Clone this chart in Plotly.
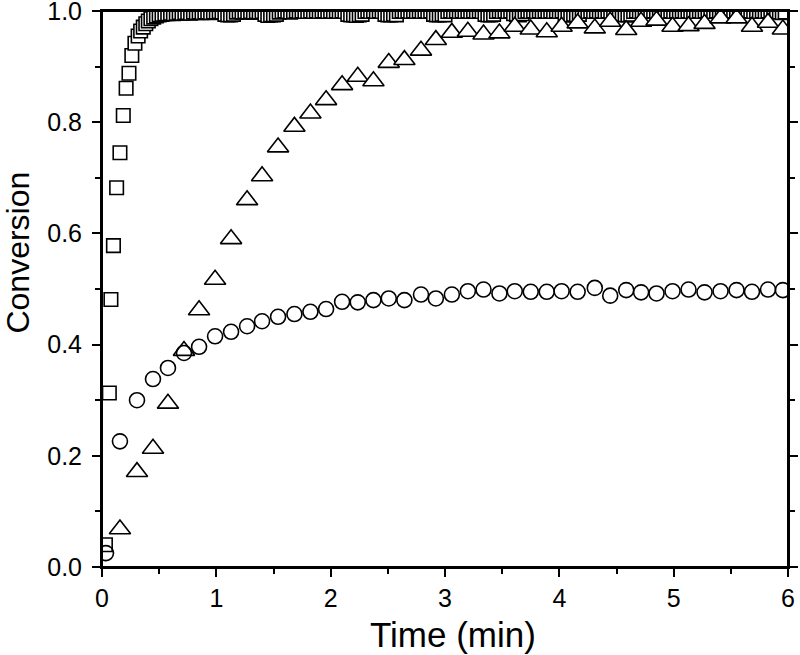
import plotly.graph_objects as go

# ---- data ----
time_circle = [0.035, 0.157, 0.306, 0.446, 0.577, 0.717, 0.849, 0.989, 1.129, 1.269,
               1.400, 1.540, 1.683, 1.823, 1.960, 2.100, 2.237, 2.374, 2.508, 2.645,
               2.790, 2.920, 3.060, 3.200, 3.337, 3.476, 3.610, 3.750, 3.890, 4.020,
               4.160, 4.310, 4.445, 4.585, 4.715, 4.850, 4.990, 5.130, 5.270, 5.410,
               5.550, 5.685, 5.825, 5.955]
conv_circle = [0.025, 0.226, 0.300, 0.338, 0.358, 0.385, 0.396, 0.415, 0.423, 0.433,
               0.442, 0.450, 0.455, 0.459, 0.464, 0.477, 0.476, 0.480, 0.483, 0.480,
               0.490, 0.483, 0.490, 0.496, 0.499, 0.492, 0.496, 0.495, 0.495, 0.496,
               0.495, 0.502, 0.488, 0.498, 0.494, 0.492, 0.496, 0.499, 0.494, 0.496,
               0.498, 0.495, 0.499, 0.498]

time_triangle = [0.157, 0.306, 0.446, 0.577, 0.717, 0.849, 0.989, 1.129, 1.269,
                 1.400, 1.540, 1.683, 1.823, 1.960, 2.100, 2.237, 2.374, 2.508, 2.645,
                 2.790, 2.920, 3.060, 3.200, 3.337, 3.476, 3.610, 3.750, 3.890, 4.020,
                 4.160, 4.310, 4.445, 4.585, 4.715, 4.850, 4.990, 5.130, 5.270, 5.410,
                 5.550, 5.685, 5.825, 5.955]
conv_triangle = [0.068, 0.171, 0.213, 0.294, 0.389, 0.462, 0.517, 0.590, 0.660,
                 0.703, 0.755, 0.792, 0.816, 0.840, 0.867, 0.882, 0.874, 0.907, 0.912,
                 0.929, 0.948, 0.961, 0.963, 0.958, 0.960, 0.972, 0.967, 0.962, 0.972,
                 0.978, 0.969, 0.981, 0.966, 0.981, 0.983, 0.972, 0.973, 0.977, 0.987,
                 0.987, 0.972, 0.979, 0.967]

time_square = [
    0.030, 0.064, 0.078, 0.100, 0.128, 0.157, 0.186, 0.211, 0.236, 0.261,
    0.288, 0.316, 0.338, 0.361, 0.383, 0.405, 0.428, 0.452, 0.476,
    0.500, 0.525, 0.550, 0.575, 0.600, 0.625, 0.650, 0.675, 0.700, 0.725,
    0.750, 0.775, 0.800, 0.825, 0.850, 0.875, 0.900, 0.925, 0.950, 0.975,
    1.000, 1.025, 1.050, 1.075, 1.100, 1.125, 1.150, 1.175, 1.200, 1.225,
    1.250, 1.275, 1.300, 1.325, 1.350, 1.375, 1.400, 1.425, 1.450, 1.475,
    1.500, 1.525, 1.550, 1.575, 1.600, 1.625, 1.650, 1.675, 1.700, 1.725,
    1.750, 1.775, 1.800, 1.825, 1.850, 1.875, 1.900, 1.925, 1.950, 1.975,
    2.000, 2.025, 2.050, 2.075, 2.100, 2.125, 2.150, 2.175, 2.200, 2.225,
    2.250, 2.275, 2.300, 2.325, 2.350, 2.375, 2.400, 2.425, 2.450, 2.475,
    2.500, 2.525, 2.550, 2.575, 2.600, 2.625, 2.650, 2.675, 2.700, 2.725,
    2.750, 2.775, 2.800, 2.825, 2.850, 2.875, 2.900, 2.925, 2.950, 2.975,
    3.000, 3.025, 3.050, 3.075, 3.100, 3.125, 3.150, 3.175, 3.200, 3.225,
    3.250, 3.275, 3.300, 3.325, 3.350, 3.375, 3.400, 3.425, 3.450, 3.475,
    3.500, 3.525, 3.550, 3.575, 3.600, 3.625, 3.650, 3.675, 3.700, 3.725,
    3.750, 3.775, 3.800, 3.825, 3.850, 3.875, 3.900, 3.925, 3.950, 3.975,
    4.000, 4.025, 4.050, 4.075, 4.100, 4.125, 4.150, 4.175, 4.200, 4.225,
    4.250, 4.275, 4.300, 4.325, 4.350, 4.375, 4.400, 4.425, 4.450, 4.475,
    4.500, 4.525, 4.550, 4.575, 4.600, 4.625, 4.650, 4.675, 4.700, 4.725,
    4.750, 4.775, 4.800, 4.825, 4.850, 4.875, 4.900, 4.925, 4.950, 4.975,
    5.000, 5.025, 5.050, 5.075, 5.100, 5.125, 5.150, 5.175, 5.200, 5.225,
    5.250, 5.275, 5.300, 5.325, 5.350, 5.375, 5.400, 5.425, 5.450, 5.475,
    5.500, 5.525, 5.550, 5.575, 5.600, 5.625, 5.650, 5.675, 5.700, 5.725,
    5.750, 5.775, 5.800, 5.825, 5.850, 5.875, 5.900, 5.925, 5.950, 5.975,
]
conv_square = [
    0.040, 0.313, 0.481, 0.578, 0.682, 0.745, 0.812, 0.861, 0.888, 0.920,
    0.942, 0.955, 0.964, 0.971, 0.977, 0.982, 0.986, 0.989, 0.991,
    0.993, 0.994, 0.995, 0.995, 0.996, 0.995, 0.996, 0.997, 0.996, 0.997,
    0.997, 0.996, 0.998, 0.997, 0.998, 0.997, 0.998, 0.998, 0.997, 0.998,
    0.998, 0.999, 0.998, 0.994, 0.993, 0.993, 0.994, 0.998, 0.999, 0.998,
    0.999, 0.998, 0.999, 0.998, 0.999, 0.998, 0.999, 0.994, 0.992, 0.993,
    0.993, 0.994, 0.998, 0.999, 1.000, 0.999, 0.998, 0.999, 1.000, 0.999,
    1.000, 0.999, 0.999, 1.000, 0.999, 1.000, 0.999, 1.000, 1.000, 0.999,
    1.000, 0.999, 1.000, 0.999, 1.000, 0.999, 0.994, 0.993, 0.993, 0.992,
    0.993, 0.994, 0.999, 1.000, 0.999, 1.000, 0.999, 1.000, 0.999, 0.994,
    0.993, 0.993, 0.994, 0.993, 0.999, 1.000, 0.999, 1.000, 0.999, 1.000,
    0.999, 1.000, 0.999, 1.000, 0.999, 1.000, 0.994, 0.993, 0.993, 0.994,
    0.993, 0.999, 1.000, 0.999, 1.000, 0.999, 1.000, 0.999, 1.000, 0.999,
    1.000, 0.999, 1.000, 0.999, 0.994, 0.993, 0.993, 0.994, 0.999, 1.000,
    0.999, 1.000, 0.999, 1.000, 0.995, 0.994, 0.993, 0.995, 0.999, 1.000,
    0.999, 1.000, 0.999, 1.000, 0.999, 1.000, 0.999, 1.000, 0.999, 1.000,
    0.999, 1.000, 0.994, 0.993, 0.993, 0.994, 0.993, 0.994, 0.999, 1.000,
    0.999, 1.000, 0.999, 1.000, 0.999, 1.000, 0.999, 1.000, 0.999, 1.000,
    1.000, 0.999, 0.994, 0.993, 0.993, 0.994, 0.999, 1.000, 0.999, 1.000,
    0.999, 1.000, 0.999, 1.000, 0.999, 1.000, 0.999, 1.000, 0.999, 1.000,
    0.999, 1.000, 0.999, 1.000, 0.999, 1.000, 0.999, 1.000, 0.999, 1.000,
    0.999, 1.000, 0.999, 1.000, 0.999, 1.000, 0.999, 1.000, 0.999, 1.000,
    0.999, 1.000, 0.999, 1.000, 0.999, 1.000, 0.999, 1.000, 0.999, 1.000,
    0.999, 1.000, 0.999, 1.000, 0.999, 1.000, 0.999, 0.998, 0.997, 0.998,
]

x_ticks = [0, 1, 2, 3, 4, 5, 6]
y_ticks = [0.0, 0.2, 0.4, 0.6, 0.8, 1.0]
y_ticktext = ["0.0", "0.2", "0.4", "0.6", "0.8", "1.0"]
x_label = "Time (min)"
y_label = "Conversion"

FONT = "Liberation Sans, Arial, sans-serif"

fig = go.Figure()
fig.add_trace(go.Scatter(
    x=time_square, y=conv_square, mode="markers",
    marker=dict(symbol="square", size=13.5, color="white",
                line=dict(color="black", width=1.6)),
    showlegend=False))
fig.add_trace(go.Scatter(
    x=time_triangle, y=conv_triangle, mode="markers",
    marker=dict(symbol="triangle-up", size=18.5, color="white",
                line=dict(color="black", width=1.6)),
    showlegend=False))
fig.add_trace(go.Scatter(
    x=time_circle, y=conv_circle, mode="markers",
    marker=dict(symbol="circle-open", size=15, color="black",
                line=dict(color="black", width=1.6)),
    showlegend=False))

axis_common = dict(
    showgrid=False, zeroline=False, automargin=False,
    showline=True, linecolor="black", linewidth=2,
    ticks="outside", ticklen=8, tickwidth=2, tickcolor="black",
    ticklabeloverflow="allow",
    tickfont=dict(family=FONT, size=25, color="black"),
)

fig.update_xaxes(
    range=[0, 6], tickmode="array", tickvals=x_ticks,
    ticktext=[str(v) for v in x_ticks], mirror=True,
    minor=dict(dtick=0.5, tick0=0, ticks="outside", ticklen=5, tickwidth=2, tickcolor="black"),
    **axis_common)
fig.update_yaxes(
    range=[0, 1], tickmode="array", tickvals=y_ticks, ticktext=y_ticktext,
    mirror="ticks", ticklabelstandoff=5,
    minor=dict(dtick=0.1, tick0=0, ticks="outside", ticklen=5, tickwidth=2, tickcolor="black"),
    **axis_common)

# axis titles placed as in the reference
fig.add_annotation(text=x_label, xref="paper", yref="paper", x=0.5117, y=-0.122,
                   xanchor="center", yanchor="middle", showarrow=False,
                   font=dict(family=FONT, size=35, color="black"))
fig.add_annotation(text=y_label, xref="paper", yref="paper", x=-0.1217, y=0.5647,
                   xanchor="center", yanchor="middle", showarrow=False, textangle=-90,
                   font=dict(family=FONT, size=32, color="black"))

# frame of the plot area (top / left edges)
fig.add_shape(type="rect", xref="paper", yref="paper", x0=0, y0=0, x1=1, y1=1,
              line=dict(color="black", width=2), layer="above")

fig.update_layout(
    width=800, height=655,
    margin=dict(l=102, r=12, t=11, b=88),
    paper_bgcolor="white", plot_bgcolor="white",
    font=dict(family=FONT, color="black"),
)

fig.write_html("out.html", config={"displayModeBar": False},
               post_script="document.body.style.margin='0px';")
